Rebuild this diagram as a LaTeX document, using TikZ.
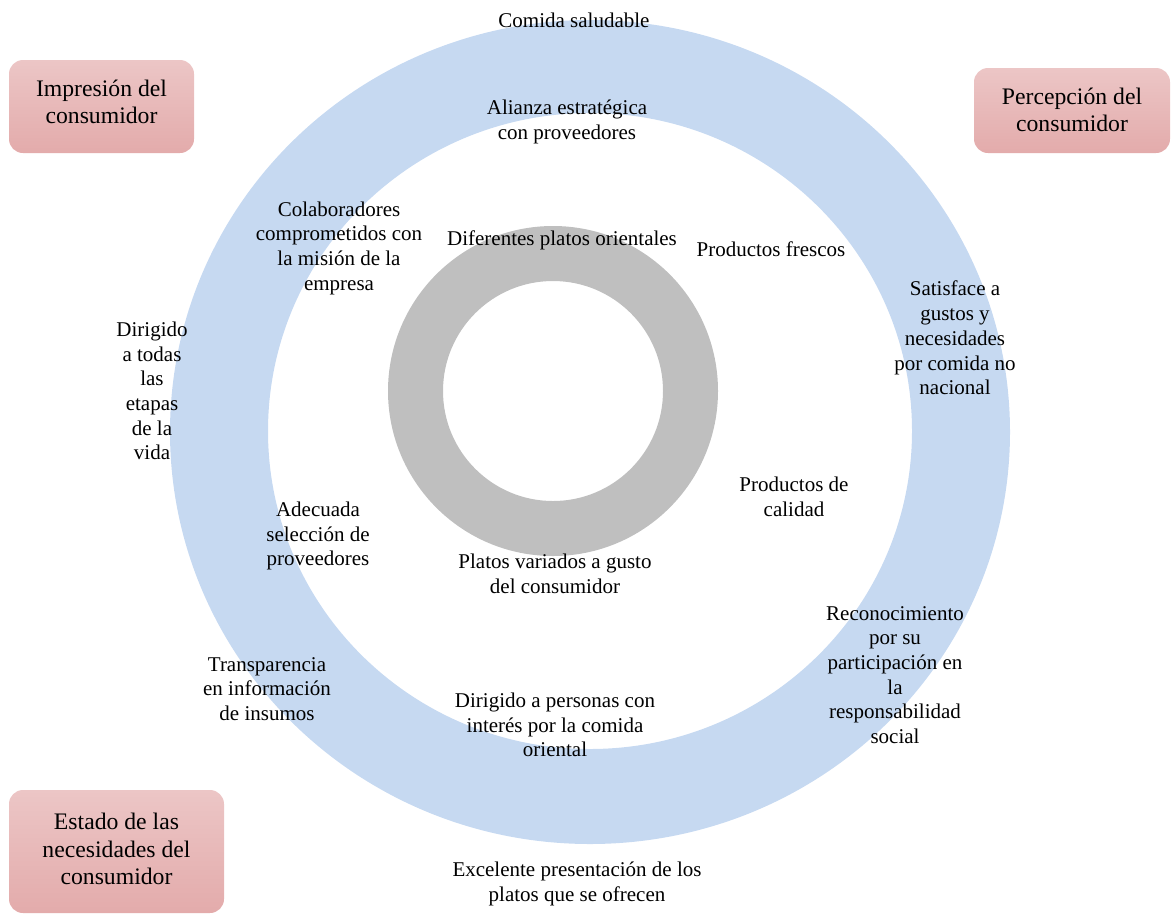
\documentclass[tikz,border=0pt]{standalone}
\usepackage{fontspec}
\setmainfont{Liberation Serif}
\definecolor{ringblue}{HTML}{C6D9F1}
\definecolor{ringgray}{HTML}{BFBFBF}
\definecolor{boxtop}{HTML}{ECC6C6}
\definecolor{boxbot}{HTML}{E3ABAB}
\begin{document}
\begin{tikzpicture}[x=1pt,y=-1pt,
  lbl/.style={align=center, font=\fontsize{21}{24.7}\selectfont, inner sep=0pt},
  cornerbox/.style={rounded corners=14pt, top color=boxtop, bottom color=boxbot, draw=none, inner sep=0pt},
  cornertext/.style={align=center, font=\fontsize{23.7}{27.5}\selectfont, inner sep=0pt}]
\useasboundingbox (0,0) rectangle (1174,914);
% rings
\fill[ringblue, even odd rule] (590,432) ellipse [x radius=420pt, y radius=412pt]
   (590,431) ellipse [x radius=322pt, y radius=318pt];
\fill[ringgray, even odd rule] (553,391) circle [radius=165pt] (553,391) circle [radius=110pt];
% corner boxes
\node[cornerbox, minimum width=185pt, minimum height=93pt] (b1) at (101.5,106.5) {};
\node[cornertext] (t1) at (101.5,102) {Impresión del\\consumidor};
\node[cornerbox, minimum width=196pt, minimum height=85pt] (b2) at (1072,110.5) {};
\node[cornertext] (t2) at (1072,110) {Percepción del\\consumidor};
\node[cornerbox, minimum width=215pt, minimum height=123pt] (b3) at (116.5,851.5) {};
\node[cornertext] (t3) at (116.5,849) {Estado de las\\necesidades del\\consumidor};
% labels
\node[lbl] (l1) at (574,20) {Comida saludable};
\node[lbl] (l2) at (567,122) {Alianza estratégica\\con proveedores};
\node[lbl] (l3) at (339,248) {Colaboradores\\comprometidos con\\la misión de la\\empresa};
\node[lbl] (l4) at (562,240) {Diferentes platos orientales};
\node[lbl] (l5) at (771,249) {Productos frescos};
\node[lbl] (l6) at (955,338) {Satisface a\\gustos y\\necesidades\\por comida no\\nacional};
\node[lbl] (l7) at (152,391) {Dirigido\\a todas\\las\\etapas\\de la\\vida};
\node[lbl] (l8) at (794,497) {Productos de\\calidad};
\node[lbl] (l9) at (318,536) {Adecuada\\selección de\\proveedores};
\node[lbl] (l10) at (555,574) {Platos variados a gusto\\del consumidor};
\node[lbl] (l11) at (895,675) {Reconocimiento\\por su\\participación en\\la\\responsabilidad\\social};
\node[lbl] (l12) at (267,689) {Transparencia\\en información\\de insumos};
\node[lbl] (l13) at (555,725) {Dirigido a personas con\\interés por la comida\\oriental};
\node[lbl] (l14) at (577,884) {Excelente presentación de los\\platos que se ofrecen};
\end{tikzpicture}
\end{document}
